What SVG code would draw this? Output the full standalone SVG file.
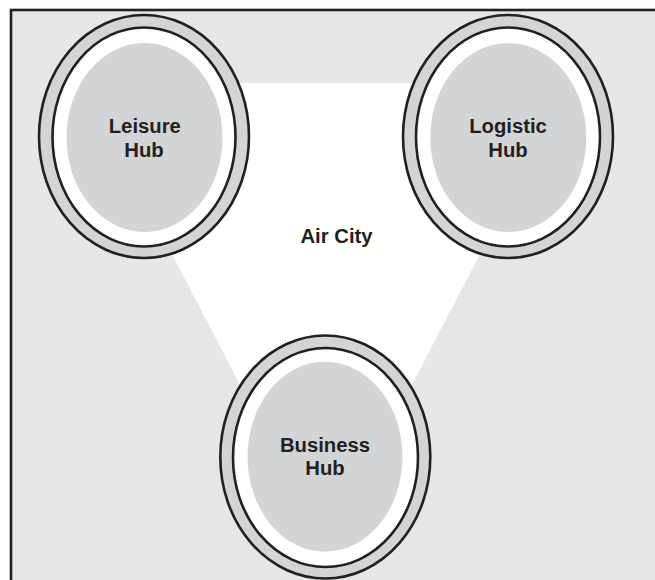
<svg xmlns="http://www.w3.org/2000/svg" width="655" height="580" viewBox="0 0 655 580">
  <style>
    .ring { fill: #d3d4d6; stroke: #231f20; stroke-width: 2.6; }
    .gap { fill: #ffffff; stroke: #231f20; stroke-width: 2.6; }
    .core { fill: #d3d4d6; stroke: none; }
    .label { font-family: "Liberation Sans", Arial, sans-serif; font-weight: bold; font-size: 20.3px; fill: #231f20; text-anchor: middle; }
  </style>
  <rect x="0" y="0" width="655" height="580" fill="#ffffff"/>
  <g id="frame">
    <rect x="11" y="10" width="680" height="620" fill="#e5e6e8" stroke="#231f20" stroke-width="2.6"/>
  </g>
  <g id="air-city">
    <polygon points="83,83 569,83 326,550" fill="#ffffff"/>
    <text class="label" x="336.5" y="243">Air City</text>
  </g>
  <g id="connectors"></g>
  <g id="leisure-hub">
    <ellipse class="ring" cx="144" cy="136.5" rx="105" ry="121.5"/>
    <ellipse class="gap" cx="144" cy="137" rx="91.5" ry="109.5"/>
    <ellipse class="core" cx="144.5" cy="137.5" rx="78" ry="94.5"/>
    <text class="label" x="144.8" y="132.7">Leisure</text>
    <text class="label" x="144" y="156.7">Hub</text>
  </g>
  <g id="logistic-hub">
    <ellipse class="ring" cx="508" cy="136.5" rx="105" ry="121.5"/>
    <ellipse class="gap" cx="508" cy="137" rx="92" ry="109.5"/>
    <ellipse class="core" cx="508.3" cy="137.5" rx="78" ry="94.5"/>
    <text class="label" x="508" y="132.7">Logistic</text>
    <text class="label" x="508" y="156.7">Hub</text>
  </g>
  <g id="business-hub">
    <ellipse class="ring" cx="325.3" cy="457" rx="105" ry="121.5"/>
    <ellipse class="gap" cx="325.5" cy="457.5" rx="92.5" ry="109.5"/>
    <ellipse class="core" cx="325" cy="456.7" rx="77.5" ry="95"/>
    <text class="label" x="325" y="451.7">Business</text>
    <text class="label" x="325" y="475">Hub</text>
  </g>
</svg>
